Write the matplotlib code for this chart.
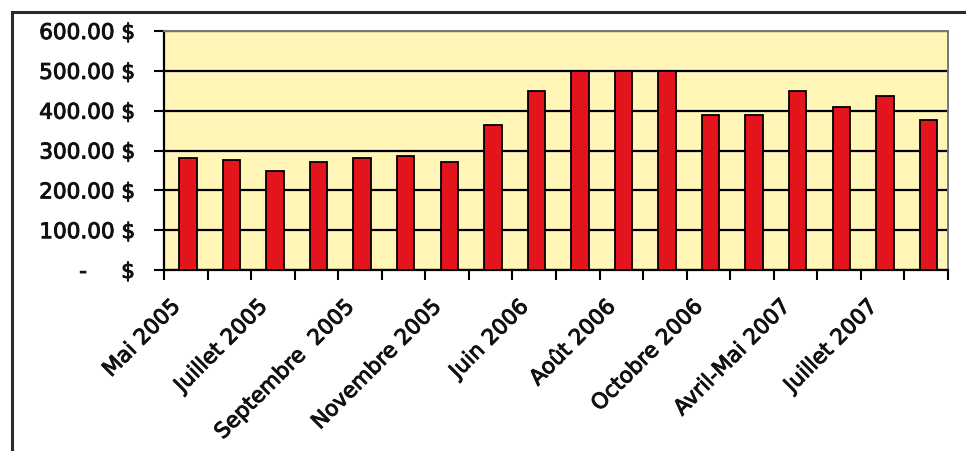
import matplotlib
matplotlib.use("Agg")
import matplotlib.pyplot as plt
from matplotlib.lines import Line2D
from matplotlib.transforms import ScaledTranslation
import matplotlib.patheffects as pe
import numpy as np

# monthly amounts ($)
months = ["Mai 2005", "Juin 2005", "Juillet 2005", "Août 2005", "Septembre  2005",
          "Octobre 2005", "Novembre 2005", "Mai 2006", "Juin 2006", "Juillet 2006",
          "Août 2006", "Septembre 2006", "Octobre 2006", "Mars 2007", "Avril-Mai 2007",
          "Juin 2007", "Juillet 2007", "Août 2007"]
amounts = [282, 277, 249, 272, 282, 287, 272, 365, 450, 500,
           500, 500, 388, 388, 450, 410, 438, 376]
y_ticks = [0, 100, 200, 300, 400, 500, 600]
y_labels = ["-     $", "100.00 $", "200.00 $", "300.00 $", "400.00 $", "500.00 $", "600.00 $"]

W, H = 966, 452
fig = plt.figure(figsize=(W / 100, H / 100), dpi=100)
fig.patch.set_facecolor("white")

# outer frame (left and top edges only visible)
fig.add_artist(Line2D([12 / W, 12 / W], [0, 1 - 13 / H], transform=fig.transFigure,
                      color="#2a2a2a", lw=2.2))
fig.add_artist(Line2D([12 / W, 1], [1 - 13 / H, 1 - 13 / H], transform=fig.transFigure,
                      color="#2a2a2a", lw=2.2))

ax = fig.add_axes([164 / W, 181 / H, (948 - 164) / W, (271 - 32) / H])
ax.set_facecolor("#fff6b8")

x = np.arange(len(months))
ax.set_axisbelow(True)
ax.yaxis.grid(True, color="black", lw=1.6)
ax.bar(x + 0.05, amounts, width=0.4, color="#e3141c", edgecolor="black", linewidth=1.3, zorder=3)

ax.set_xlim(-0.5, len(months) - 0.5)
ax.set_ylim(0, 600)
ax.set_yticks(y_ticks)
ax.set_yticklabels(y_labels, fontsize=15.5, color="#111111", family="DejaVu Sans")
ax.tick_params(axis="y", length=7, width=1.5, color="black", pad=14)

# ticks between categories, labels on every other category
ax.set_xticks(np.arange(-0.5, len(months), 1.0))
ax.set_xticklabels([])
ax.tick_params(axis="x", which="major", length=7, width=1.5, color="black")
ax.set_xticks(x[::2], minor=True)
ax.set_xticklabels(months[::2], minor=True, rotation=45, ha="right", va="center",
                   rotation_mode="anchor", fontsize=15.5, color="#111111",
                   family="DejaVu Sans")
ax.tick_params(axis="x", which="minor", length=0, pad=24)
shift = ScaledTranslation(-9 / 100, 0, fig.dpi_scale_trans)
for lab in ax.get_xticklabels(minor=True):
    lab.set_transform(lab.get_transform() + shift)

# slightly heavier text, like the scanned original
for lab in ax.get_xticklabels(minor=True) + ax.get_yticklabels():
    lab.set_path_effects([pe.withStroke(linewidth=0.7, foreground="#111111")])

for side in ["left", "bottom"]:
    ax.spines[side].set_color("black")
    ax.spines[side].set_linewidth(1.6)
for side in ["top", "right"]:
    ax.spines[side].set_color("#777777")
    ax.spines[side].set_linewidth(1.4)

fig.savefig("out.png", dpi=100)
